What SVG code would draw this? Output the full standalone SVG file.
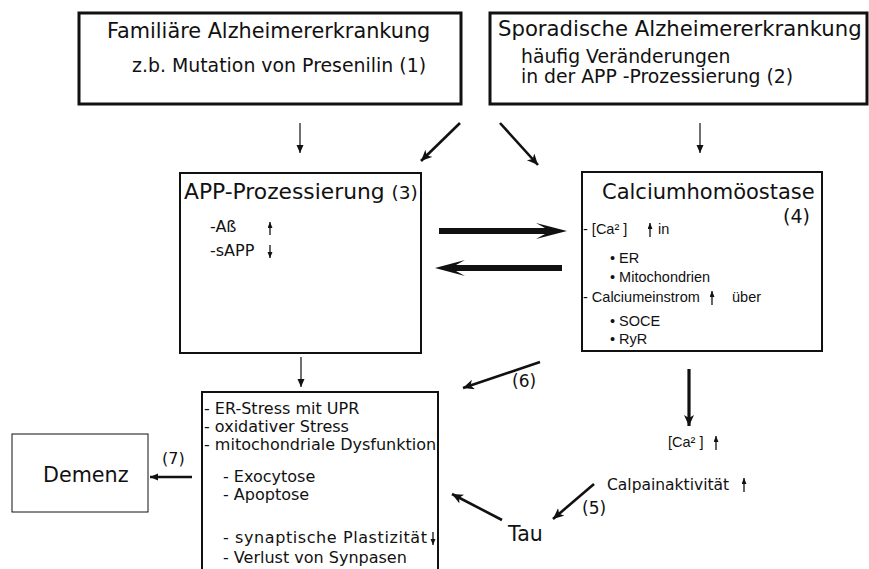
<svg xmlns="http://www.w3.org/2000/svg" width="869" height="569" viewBox="0 0 869 569">
<style>
.v{font-family:"DejaVu Sans","Verdana",sans-serif;fill:#111}
.c{font-family:"Liberation Sans","Carlito",sans-serif;fill:#111}
.box3{fill:#fff;stroke:#111;stroke-width:3}
.box2{fill:#fff;stroke:#111;stroke-width:2}
.box1{fill:#fff;stroke:#111;stroke-width:1}
.thin{stroke:#111;stroke-width:1.2;fill:none}
.med{stroke:#111;stroke-width:2.6;fill:none}
.sm{stroke:#111;stroke-width:1.3;fill:none}
</style>
<defs>
<marker id="mThin" markerUnits="userSpaceOnUse" markerWidth="10" markerHeight="10" refX="8" refY="3.5" orient="auto">
<path d="M0,0 L8,3.5 L0,7 z" fill="#111"/>
</marker>
<marker id="mMed" markerUnits="userSpaceOnUse" markerWidth="14" markerHeight="14" refX="11" refY="5" orient="auto">
<path d="M0,0 L11,5 L0,10 L3,5 z" fill="#111"/>
</marker>
<marker id="mSm" markerUnits="userSpaceOnUse" markerWidth="8" markerHeight="8" refX="6" refY="2.5" orient="auto">
<path d="M0,0 L6,2.5 L0,5 z" fill="#111"/>
</marker>
</defs>
<rect width="869" height="569" fill="#fff"/>

<g id="connectors">
<line class="thin" x1="300" y1="123" x2="300" y2="153" marker-end="url(#mThin)"/>
<line class="thin" x1="700" y1="123" x2="700" y2="153" marker-end="url(#mThin)"/>
<line class="med" x1="460" y1="123" x2="421" y2="161" marker-end="url(#mMed)"/>
<line class="med" x1="500" y1="123" x2="538" y2="165" marker-end="url(#mMed)"/>
<polygon points="439,228 545,228 536,223 567,231 536,239 545,234 439,234" fill="#111"/>
<polygon points="562,265 456,265 465,260 435,268 465,276 456,271 562,271" fill="#111"/>
<line class="thin" x1="301" y1="357" x2="301" y2="387" marker-end="url(#mThin)"/>
<line class="med" x1="540" y1="362" x2="463" y2="388" marker-end="url(#mMed)"/>
<line x1="689" y1="369" x2="689" y2="426" stroke="#111" stroke-width="3.2" marker-end="url(#mMed)"/>
<line class="med" x1="594" y1="484" x2="553" y2="519" marker-end="url(#mMed)"/>
<line class="med" x1="502" y1="520" x2="452" y2="494" marker-end="url(#mMed)"/>
<line class="med" x1="192" y1="477" x2="150" y2="477" stroke-width="1.8" marker-end="url(#mThin)"/>
</g>

<g id="node-familiaer">
<rect class="box3" x="79" y="13" width="382" height="91"/>
<text class="v" x="107" y="38" font-size="20.8">Familiäre Alzheimererkrankung</text>
<text class="v" x="132" y="72" font-size="18.9">z.b. Mutation von Presenilin (1)</text>
</g>

<g id="node-sporadisch">
<rect class="box3" x="490" y="13" width="377" height="91"/>
<text class="v" x="498" y="36" font-size="21.2">Sporadische Alzheimererkrankung</text>
<text class="v" x="521" y="63" font-size="18.8">häufig Veränderungen</text>
<text class="v" x="521" y="83" font-size="18.8">in der APP -Prozessierung (2)</text>
</g>

<g id="node-app">
<rect class="box2" x="180" y="173" width="241" height="180"/>
<text class="v" x="184" y="199" font-size="21.8">APP-Prozessierung <tspan font-size="18.5">(3)</tspan></text>
<text class="v" x="210" y="232" font-size="16">-Aß</text>
<line class="sm" x1="270" y1="235" x2="270" y2="222" marker-end="url(#mSm)"/>
<text class="v" x="210" y="256" font-size="16">-sAPP</text>
<line class="sm" x1="270" y1="245" x2="270" y2="258" marker-end="url(#mSm)"/>
</g>

<g id="node-calcium">
<rect class="box2" x="582" y="172" width="240" height="179"/>
<text class="v" x="602" y="199" font-size="21">Calciumhomöostase</text>
<text class="v" x="783" y="223" font-size="19">(4)</text>
<text class="c" x="583" y="234" font-size="14.5">- [Ca² ]</text>
<line class="sm" x1="650" y1="237" x2="650" y2="223" marker-end="url(#mSm)"/>
<text class="c" x="658" y="234" font-size="14.5">in</text>
<text class="c" x="610" y="263" font-size="14.5">•  ER</text>
<text class="c" x="610" y="282" font-size="14.5">•  Mitochondrien</text>
<text class="c" x="583" y="302" font-size="14.5">- Calciumeinstrom</text>
<line class="sm" x1="712" y1="305" x2="712" y2="291" marker-end="url(#mSm)"/>
<text class="c" x="732" y="302" font-size="14.5">über</text>
<text class="c" x="610" y="326" font-size="14.5">•  SOCE</text>
<text class="c" x="610" y="344" font-size="14.5">•  RyR</text>
</g>

<g id="node-stress">
<rect class="box2" x="202" y="392" width="236" height="190"/>
<text class="v" x="204" y="414" font-size="16">- ER-Stress mit UPR</text>
<text class="v" x="204" y="432" font-size="16">- oxidativer Stress</text>
<text class="v" x="204" y="450" font-size="16">- mitochondriale Dysfunktion</text>
<text class="v" x="223" y="482" font-size="16">- Exocytose</text>
<text class="v" x="223" y="500" font-size="16">- Apoptose</text>
<text class="v" x="223" y="543" font-size="16" textLength="204" lengthAdjust="spacing">- synaptische Plastizität</text>
<line class="sm" x1="433" y1="532" x2="433" y2="545" marker-end="url(#mSm)"/>
<text class="v" x="223" y="563" font-size="16">- Verlust von Synpasen</text>
</g>

<g id="node-demenz">
<rect class="box1" x="12" y="434" width="136" height="78"/>
<text class="v" x="43" y="482" font-size="20.7">Demenz</text>
</g>

<g id="node-ca">
<text class="c" x="668" y="447" font-size="14.5">[Ca² ]</text>
<line class="sm" x1="716" y1="450" x2="716" y2="436" marker-end="url(#mSm)"/>
</g>

<g id="node-calpain">
<text class="v" x="607" y="490" font-size="15.5">Calpainaktivität</text>
<line class="sm" x1="744" y1="492" x2="744" y2="478" marker-end="url(#mSm)"/>
</g>

<g id="node-tau">
<text class="v" x="508" y="541" font-size="20.5">Tau</text>
</g>

<g id="labels">
<text class="v" x="512" y="387" font-size="17">(6)</text>
<text class="v" x="582" y="514" font-size="17">(5)</text>
<text class="v" x="162" y="464" font-size="16">(7)</text>
</g>
</svg>
